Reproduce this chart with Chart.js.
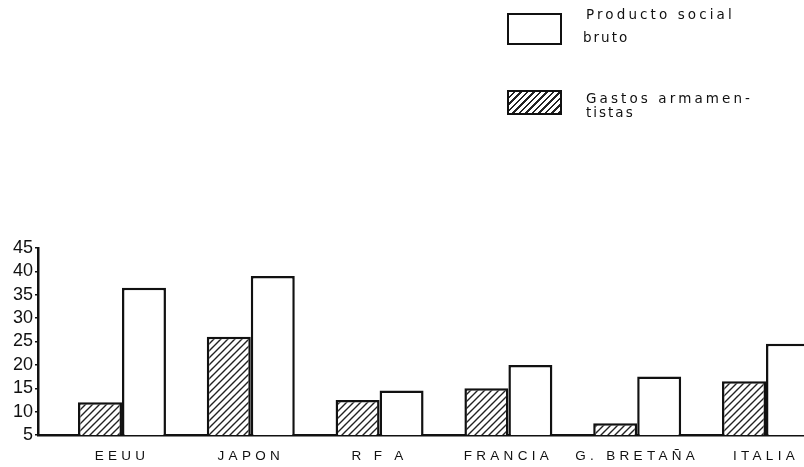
<!DOCTYPE html>
<html>
<head>
<meta charset="utf-8">
<script src="https://cdn.jsdelivr.net/npm/chart.js@4"></script>
<style>
  html, body { margin: 0; padding: 0; background: #fff; overflow: hidden; }
  #wrap { position: absolute; left: 0; top: 0; width: 804px; height: 467px; }
  .swatch { position: absolute; box-sizing: border-box; border: 2px solid #111; background: #fff; }
  .hatch { background: repeating-linear-gradient(135deg, #fff 0px, #fff 3px, #222 3px, #222 4.6px); }
  .ltext { position: absolute; font-family: "DejaVu Sans", sans-serif; font-size: 13.5px; color: #111; letter-spacing: 3.1px; line-height: 13px; white-space: nowrap; }
</style>
</head>
<body>
<div id="wrap">
  <canvas id="c" width="804" height="467"></canvas>
  <div class="swatch" style="left:507px;top:13px;width:55px;height:32px;"></div>
  <div class="ltext" style="left:586px;top:8px;">Producto social</div>
  <div class="ltext" style="left:583px;top:31px;letter-spacing:2px;">bruto</div>
  <div class="swatch hatch" style="left:507px;top:90px;width:55px;height:25px;"></div>
  <div class="ltext" style="left:586px;top:92px;">Gastos armamen-</div>
  <div class="ltext" style="left:586px;top:106px;letter-spacing:2px;">tistas</div>
</div>
<script>
const categories = ["EEUU", "JAPON", "R F A", "FRANCIA", "G. BRETAÑA", "ITALIA"];
const gastosArmamentistas = [12, 26, 12.5, 15, 7.5, 16.5];
const productoSocialBruto = [36.5, 39, 14.5, 20, 17.5, 24.5];
const yTicks = [5, 10, 15, 20, 25, 30, 35, 40, 45];

function makeHatch() {
  const s = 7;
  const p = document.createElement('canvas');
  p.width = s; p.height = s;
  const g = p.getContext('2d');
  g.fillStyle = '#fff';
  g.fillRect(0, 0, s, s);
  g.strokeStyle = '#222';
  g.lineWidth = 1.4;
  g.beginPath();
  g.moveTo(-1, s + 1); g.lineTo(s + 1, -1);
  g.moveTo(-1, 1); g.lineTo(1, -1);
  g.moveTo(s - 1, s + 1); g.lineTo(s + 1, s - 1);
  g.stroke();
  return document.getElementById('c').getContext('2d').createPattern(p, 'repeat');
}
const hatch = makeHatch();

const spacingPlugin = {
  id: 'spacing',
  beforeDraw(chart) { chart.ctx.letterSpacing = '0px'; },
  afterDatasetsDraw(chart) { chart.ctx.letterSpacing = '4.3px'; },
  afterDraw(chart) { chart.ctx.letterSpacing = '0px'; }
};

new Chart(document.getElementById('c'), {
  type: 'bar',
  data: {
    datasets: [
      {
        label: 'Gastos armamentistas',
        data: gastosArmamentistas.map((v, i) => ({ x: i, y: v })),
        backgroundColor: hatch,
        borderColor: '#111',
        borderWidth: 2.5,
        borderSkipped: 'start',
        categoryPercentage: 0.683,
        barPercentage: 1
      },
      {
        label: 'Producto social bruto',
        data: productoSocialBruto.map((v, i) => ({ x: i, y: v })),
        backgroundColor: '#fff',
        borderColor: '#111',
        borderWidth: 2.5,
        borderSkipped: 'start',
        categoryPercentage: 0.683,
        barPercentage: 1
      }
    ]
  },
  options: {
    responsive: false,
    animation: false,
    layout: { padding: { top: 248, left: 0, right: 0, bottom: 0 } },
    plugins: { legend: { display: false }, tooltip: { enabled: false } },
    scales: {
      x: {
        type: 'linear',
        position: 'bottom',
        offset: false,
        min: -0.652,
        max: 5.295,
        afterBuildTicks: s => { s.ticks = categories.map((c, i) => ({ value: i })); },
        afterFit: s => { s.height = 32; },
        grid: { display: false, drawTicks: false, offset: false },
        border: { display: true, color: '#111', width: 2.5 },
        ticks: {
          z: 1,
          autoSkip: false,
          maxRotation: 0,
          padding: 13,
          color: '#111',
          font: { family: 'Liberation Sans, Arial, sans-serif', size: 13.5 },
          callback: v => categories[v]
        }
      },
      y: {
        min: 5,
        max: 45,
        afterBuildTicks: s => { s.ticks = yTicks.map(v => ({ value: v })); },
        afterFit: s => { s.width = 38; },
        grid: { display: true, drawOnChartArea: false, drawTicks: true, tickLength: 3, color: '#111', lineWidth: 1.5 },
        border: { display: true, color: '#111', width: 2.5 },
        ticks: {
          autoSkip: false,
          padding: 2,
          color: '#111',
          font: { family: 'Liberation Sans, Arial, sans-serif', size: 18 }
        }
      }
    }
  },
  plugins: [spacingPlugin]
});
</script>
</body>
</html>
